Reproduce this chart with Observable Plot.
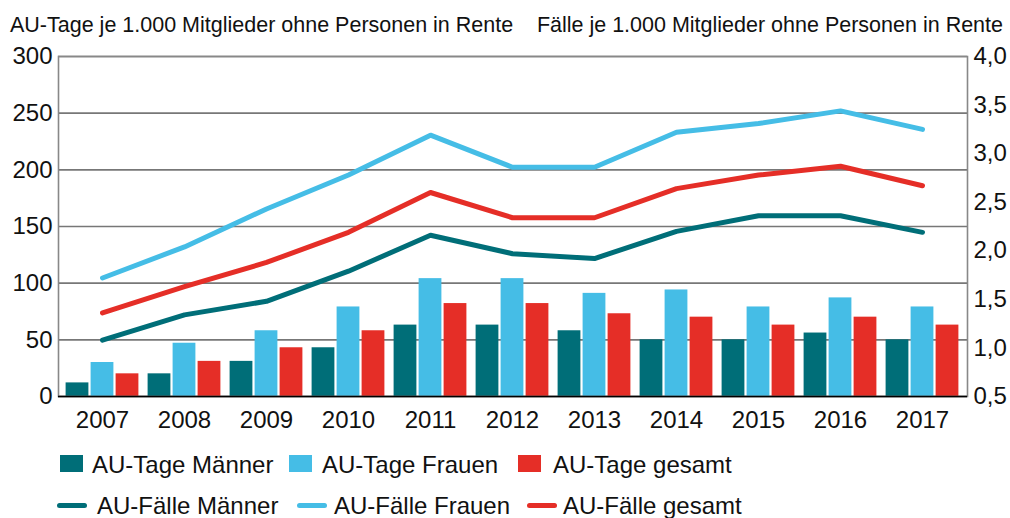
<!DOCTYPE html>
<html>
<head>
<meta charset="utf-8">
<script src="https://cdn.jsdelivr.net/npm/d3@7"></script>
<script src="https://cdn.jsdelivr.net/npm/@observablehq/plot@0.6"></script>
<style>
  body { margin: 0; background: #fff; font-family: "Liberation Sans", Arial, sans-serif; color: #111; }
  #wrap { position: relative; width: 1010px; height: 518px; overflow: hidden; background: #fff; }
  #chart { position: absolute; left: 0; top: 0; z-index: 1; }
  .title { position: absolute; top: 11px; font-size: 21.5px; white-space: nowrap; line-height: 28px; z-index: 5; }
  .leg { position: absolute; display: flex; align-items: center; font-size: 24px; white-space: nowrap; height: 30px; z-index: 5; }
</style>
</head>
<body>
<div id="wrap">
  <div id="chart"></div>
  <div class="title" id="tl" style="left:10px;"></div>
  <div class="title" id="tr" style="right:7px;"></div>
  <div id="legend"></div>
</div>
<script>
// ---- data ----
const years = ["2007","2008","2009","2010","2011","2012","2013","2014","2015","2016","2017"];
const tageMaenner = [12, 20, 31, 43, 63, 63, 58, 50, 50, 56, 50];
const tageFrauen  = [30, 47, 58, 79, 104, 104, 91, 94, 79, 87, 79];
const tageGesamt  = [20, 31, 43, 58, 82, 82, 73, 70, 63, 70, 63];
const faelleMaenner = [1.08, 1.34, 1.48, 1.79, 2.16, 1.97, 1.92, 2.20, 2.36, 2.36, 2.19];
const faelleFrauen  = [1.72, 2.04, 2.43, 2.78, 3.19, 2.86, 2.86, 3.22, 3.31, 3.44, 3.25];
const faelleGesamt  = [1.36, 1.63, 1.88, 2.19, 2.60, 2.34, 2.34, 2.64, 2.78, 2.87, 2.67];
const leftTicks = [0, 50, 100, 150, 200, 250, 300];
const rightTickValues = [0.5, 1.0, 1.5, 2.0, 2.5, 3.0, 3.5, 4.0];
const rightTickLabels = ["0,5","1,0","1,5","2,0","2,5","3,0","3,5","4,0"];
const titleLeft = "AU-Tage je 1.000 Mitglieder ohne Personen in Rente";
const titleRight = "Fälle je 1.000 Mitglieder ohne Personen in Rente";
const barNames = ["AU-Tage Männer", "AU-Tage Frauen", "AU-Tage gesamt"];
const lineNames = ["AU-Fälle Männer", "AU-Fälle Frauen", "AU-Fälle gesamt"];
const colors = ["#006e78", "#45bde6", "#e52e27"];

// right axis (0.5..4.0) mapped onto left scale (0..300)
const rMin = 0.5, rMax = 4.0, lMax = 300;
const toLeft = v => (v - rMin) * lMax / (rMax - rMin);
const rightLabelMap = new Map(rightTickValues.map((v, i) => [toLeft(v), rightTickLabels[i]]));

const barSeries = [tageMaenner, tageFrauen, tageGesamt];
const lineSeries = [faelleMaenner, faelleFrauen, faelleGesamt];
const bars = barSeries.map(arr => years.map((y, i) => ({year: y, value: arr[i]})));
const lines = lineSeries.map(arr => years.map((y, i) => ({year: y, value: arr[i]})));

// bar placement within each year band (bandwidth ~82px): three bars of 23px with 2px gaps
const insets = [[4.6, 54.6], [29.6, 29.6], [54.6, 4.6]];

document.getElementById("tl").textContent = titleLeft;
document.getElementById("tr").textContent = titleRight;

const chart = Plot.plot({
  width: 1010,
  height: 440,
  marginTop: 56,
  marginBottom: 44,
  marginLeft: 58,
  marginRight: 43,
  x: {type: "band", domain: years, padding: 0, insetLeft: 2, insetRight: 3, label: null},
  y: {domain: [0, lMax], label: null},
  style: {fontFamily: "'Liberation Sans', Arial, sans-serif", fontSize: "24px", color: "#111", background: "transparent", overflow: "visible"},
  marks: [
    Plot.ruleY(leftTicks, {stroke: "#777", strokeWidth: 1.6}),
    ...bars.map((d, k) => Plot.barY(d, {x: "year", y: "value", fill: colors[k], insetLeft: insets[k][0], insetRight: insets[k][1]})),
    Plot.frame({stroke: "#888", strokeWidth: 1.6}),
    Plot.ruleY([0], {stroke: "#000", strokeWidth: 1.6}),
    ...lines.map((d, k) => Plot.line(d, {x: "year", y: r => toLeft(r.value), stroke: colors[k], strokeWidth: 5, strokeLinecap: "round", strokeLinejoin: "round"})),
    Plot.axisX({tickSize: 0, tickPadding: 14, fontSize: 24, label: null}),
    Plot.axisY(leftTicks, {anchor: "left", tickSize: 0, tickPadding: 6, fontSize: 24, label: null}),
    Plot.axisY(rightTickValues.map(toLeft), {anchor: "right", tickSize: 0, tickPadding: 6, fontSize: 24, label: null, tickFormat: d => rightLabelMap.get(d)})
  ]
});
document.getElementById("chart").appendChild(chart);

// legend
const legend = document.getElementById("legend");
const barPos = [[60, 92], [289, 322], [518, 553]];
const linePos = [[57, 97], [297, 334], [527, 563]];
barNames.forEach((name, k) => {
  const sw = document.createElement("div");
  sw.style.cssText = `position:absolute;z-index:5;left:${barPos[k][0]}px;top:455px;width:23px;height:17px;background:${colors[k]}`;
  legend.appendChild(sw);
  const t = document.createElement("div");
  t.className = "leg";
  t.style.left = barPos[k][1] + "px";
  t.style.top = "450px";
  t.textContent = name;
  legend.appendChild(t);
});
lineNames.forEach((name, k) => {
  const sw = document.createElement("div");
  sw.style.cssText = `position:absolute;z-index:5;left:${linePos[k][0]}px;top:503px;width:30px;height:5px;border-radius:3px;background:${colors[k]}`;
  legend.appendChild(sw);
  const t = document.createElement("div");
  t.className = "leg";
  t.style.left = linePos[k][1] + "px";
  t.style.top = "491px";
  t.textContent = name;
  legend.appendChild(t);
});
</script>
</body>
</html>
